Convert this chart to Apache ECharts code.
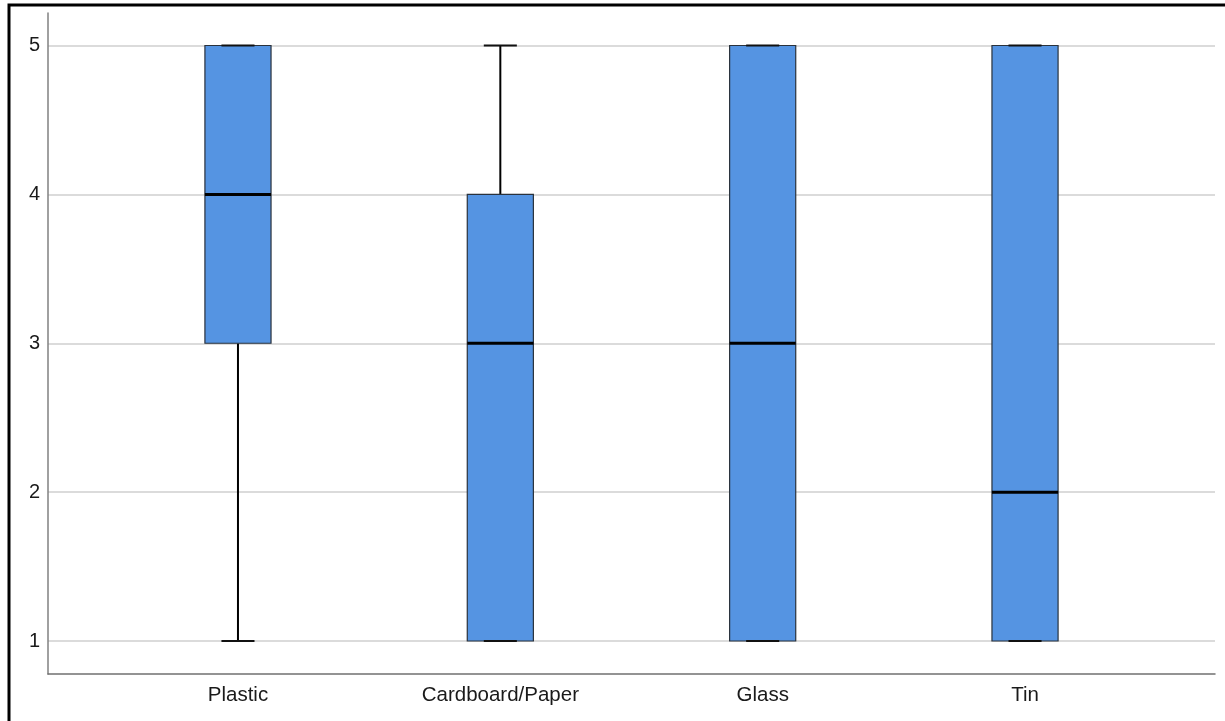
<!DOCTYPE html>
<html>
<head>
<meta charset="utf-8">
<script src="https://cdn.jsdelivr.net/npm/echarts@6/dist/echarts.min.js"></script>
<style>
  html, body { margin: 0; padding: 0; background: #fff; }
  #chart { width: 1225px; height: 721px; }
</style>
</head>
<body>
<div id="chart"></div>
<script>
// Five-number summaries per material (rating scale 1-5)
const categories   = ['Plastic', 'Cardboard/Paper', 'Glass', 'Tin'];
const whiskerLow   = [1, 1, 1, 1];
const quartile1    = [3, 1, 1, 1];
const medians      = [4, 3, 3, 2];
const quartile3    = [5, 4, 5, 5];
const whiskerHigh  = [5, 5, 5, 5];
const yTicks       = [1, 2, 3, 4, 5];

const boxData = categories.map((c, i) => [
  i, whiskerLow[i], quartile1[i], medians[i], quartile3[i], whiskerHigh[i]
]);

const FONT = '"Liberation Sans", Arial, sans-serif';
const BOX_FILL = '#5594e2';

// Box, whiskers with half-width caps, and a heavy median bar
function renderBox(params, api) {
  const idx = api.value(0);
  const band = api.size([1, 0])[0];
  const boxW = band * 0.252;
  const capW = boxW / 2;
  const pLo  = api.coord([idx, api.value(1)]);
  const pQ1  = api.coord([idx, api.value(2)]);
  const pMed = api.coord([idx, api.value(3)]);
  const pQ3  = api.coord([idx, api.value(4)]);
  const pHi  = api.coord([idx, api.value(5)]);
  const cx = pMed[0];
  const line = (x1, y1, x2, y2, w, c) => ({
    type: 'line',
    shape: { x1, y1, x2, y2 },
    style: { stroke: c, lineWidth: w }
  });
  return {
    type: 'group',
    children: [
      line(cx, pQ3[1], cx, pHi[1], 2, '#000'),
      line(cx, pQ1[1], cx, pLo[1], 2, '#000'),
      {
        type: 'rect',
        shape: { x: cx - boxW / 2, y: pQ3[1], width: boxW, height: pQ1[1] - pQ3[1] },
        style: { fill: BOX_FILL, stroke: '#2a323c', lineWidth: 1.2 }
      },
      line(cx - capW / 2, pHi[1], cx + capW / 2, pHi[1], 2, '#111'),
      line(cx - capW / 2, pLo[1], cx + capW / 2, pLo[1], 2, '#111'),
      line(cx - boxW / 2, pMed[1], cx + boxW / 2, pMed[1], 3, '#000')
    ]
  };
}

const chart = echarts.init(document.getElementById('chart'), null, { renderer: 'canvas' });

chart.setOption({
  animation: false,
  backgroundColor: '#fff',
  graphic: [{
    type: 'rect',
    silent: true,
    shape: { x: 9, y: 5, width: 1300, height: 800 },
    style: { fill: 'none', stroke: '#000', lineWidth: 3 }
  }],
  grid: [
    // axis frame
    { left: 48, right: 10, top: 13, bottom: 47 },
    // value gridlines and y labels
    { left: 48, right: 10, top: 45.5, bottom: 80 },
    // category plotting band
    { left: 106.8, right: 68.8, top: 45.5, bottom: 80 }
  ],
  xAxis: [
    {
      gridIndex: 0, type: 'value', min: 0, max: 1,
      axisLine: { show: true, lineStyle: { color: '#707070', width: 1.5 } },
      axisTick: { show: false }, axisLabel: { show: false }, splitLine: { show: false }
    },
    { gridIndex: 1, type: 'value', min: 0, max: 1, show: false },
    {
      gridIndex: 2, type: 'category', data: categories, boundaryGap: true,
      axisLine: { show: false }, axisTick: { show: false }, splitLine: { show: false },
      axisLabel: { color: '#1a1a1a', fontSize: 20.5, fontFamily: FONT, margin: 44 }
    }
  ],
  yAxis: [
    {
      gridIndex: 0, type: 'value', min: 0, max: 1,
      axisLine: { show: true, lineStyle: { color: '#808080', width: 1.5 } },
      axisTick: { show: false }, axisLabel: { show: false }, splitLine: { show: false }
    },
    {
      gridIndex: 1, type: 'value',
      min: yTicks[0], max: yTicks[yTicks.length - 1], interval: 1,
      axisLine: { show: false }, axisTick: { show: false },
      axisLabel: { color: '#1a1a1a', fontSize: 20, fontFamily: FONT, margin: 8 },
      splitLine: { show: true, lineStyle: { color: '#cfcfcf', width: 1.5 } }
    },
    {
      gridIndex: 2, type: 'value',
      min: yTicks[0], max: yTicks[yTicks.length - 1], show: false
    }
  ],
  series: [{
    type: 'custom',
    xAxisIndex: 2,
    yAxisIndex: 2,
    renderItem: renderBox,
    encode: { x: 0, y: [1, 2, 3, 4, 5] },
    data: boxData,
    clip: false
  }]
});
</script>
</body>
</html>
